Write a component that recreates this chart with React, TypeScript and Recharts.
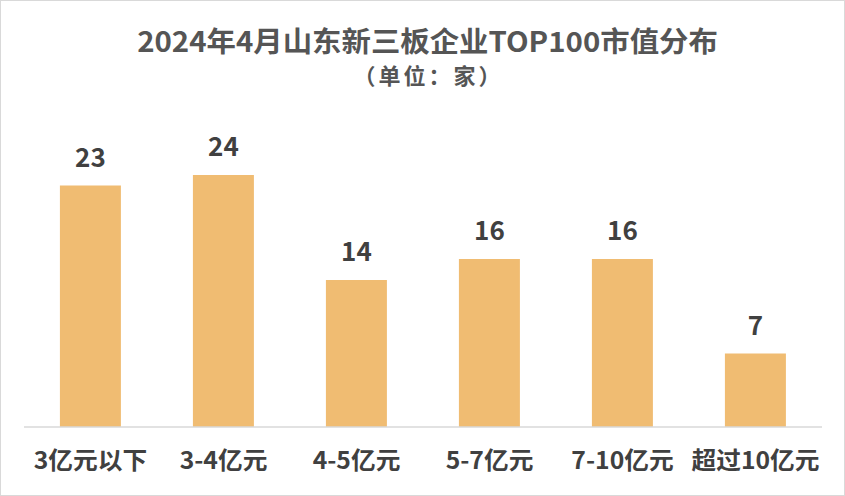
import React from 'react';
import { BarChart, Bar, XAxis, YAxis, LabelList } from 'recharts';

// categories and counts (家)
const categories = ['3亿元以下', '3-4亿元', '4-5亿元', '5-7亿元', '7-10亿元', '超过10亿元'];
const counts = [23, 24, 14, 16, 16, 7];

const data = categories.map((name, i) => ({ name, value: counts[i] }));

const FONT = '"Noto Sans CJK SC", "Noto Sans", sans-serif';

const Tick = (props: any) => {
  const { x, y, payload } = props;
  return (
    <text
      transform={`translate(${x},${y + 34}) scale(1.03,1)`}
      textAnchor="middle"
      fontFamily={FONT}
      fontWeight="bold"
      fontSize={24}
      fill="#404040"
    >
      {payload.value}
    </text>
  );
};

const TopLabel = (props: any) => {
  const { x, y, width, value } = props;
  return (
    <text
      x={x + width / 2}
      y={y - 19}
      textAnchor="middle"
      fontFamily={FONT}
      fontWeight="bold"
      fontSize={26}
      fill="#404040"
    >
      {value}
    </text>
  );
};

const App: React.FC = () => {
  return (
    <div
      style={{
        position: 'absolute',
        left: 0,
        top: 0,
        width: 845,
        height: 496,
        background: '#fff',
        border: '1px solid #d9d9d9',
        boxSizing: 'border-box',
        fontFamily: FONT,
      }}
    >
      <div
        style={{
          position: 'absolute',
          top: 25,
          left: 4,
          width: 845,
          textAlign: 'center',
          fontSize: 28,
          fontWeight: 'bold',
          color: '#555555',
          lineHeight: '28px',
          transform: 'scaleX(1.05)',
        }}
      >
        2024年4月山东新三板企业TOP100市值分布
      </div>
      <div
        style={{
          position: 'absolute',
          top: 62,
          left: 5,
          width: 845,
          textAlign: 'center',
          fontSize: 22,
          fontWeight: 'bold',
          color: '#555555',
          lineHeight: '22px',
          letterSpacing: 3,
        }}
      >
        （单位：家）
      </div>
      <div style={{ position: 'absolute', left: 0, top: 0 }}>
        <BarChart
          width={843}
          height={494}
          data={data}
          margin={{ top: 111, right: 22, left: 23, bottom: 28 }}
          barCategoryGap="27%"
        >
          <YAxis hide domain={[0, 30]} />
          <XAxis
            dataKey="name"
            axisLine={{ stroke: '#d9d9d9', strokeWidth: 1.5 }}
            tickLine={false}
            tick={<Tick />}
            height={40}
            interval={0}
          />
          <Bar dataKey="value" fill="#F0BC72" isAnimationActive={false}>
            <LabelList dataKey="value" content={<TopLabel />} />
          </Bar>
        </BarChart>
      </div>
    </div>
  );
};

export default App;
